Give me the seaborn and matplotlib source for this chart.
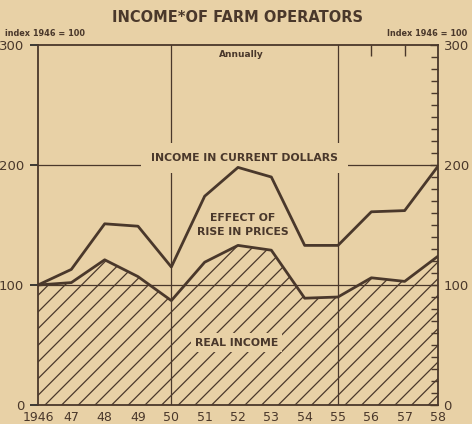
import matplotlib
matplotlib.use("Agg")
import matplotlib.pyplot as plt
import seaborn as sns
import pandas as pd
import numpy as np

years = [1946, 1947, 1948, 1949, 1950, 1951, 1952, 1953, 1954, 1955, 1956, 1957, 1958]
current_dollars = [100, 113, 151, 149, 115, 174, 198, 190, 133, 133, 161, 162, 199]
real_income = [100, 102, 121, 107, 87, 119, 133, 129, 89, 90, 106, 103, 124]
x_labels = ["1946", "47", "48", "49", "50", "51", "52", "53", "54", "55", "56", "57", "58"]
y_ticks = [0, 100, 200, 300]

df = pd.DataFrame({"year": years, "current": current_dollars, "real": real_income})

BG = "#e8d1a6"
INK = "#4a382b"

sns.set_theme(style="white")
plt.rcParams["font.family"] = ["DejaVu Sans"]
plt.rcParams["hatch.linewidth"] = 0.9
plt.rcParams["hatch.color"] = INK

fig = plt.figure(figsize=(4.72, 4.24), dpi=100, facecolor=BG)
ax = fig.add_axes([38 / 472, 1 - 405 / 424, 400 / 472, 360 / 424])
ax.set_facecolor(BG)

# grid lines
for v in [100, 200]:
    ax.axhline(v, color=INK, lw=0.9, zorder=1)
for v in [1950, 1955]:
    ax.axvline(v, color=INK, lw=0.9, zorder=1)

ax.fill_between(df["year"], 0, df["real"], facecolor="none", edgecolor=INK,
                hatch="//", linewidth=0, zorder=2)
sns.lineplot(data=df, x="year", y="current", ax=ax, color=INK, lw=2.0, zorder=4)
sns.lineplot(data=df, x="year", y="real", ax=ax, color=INK, lw=2.0, zorder=4)

ax.set_xlim(1946, 1958)
ax.set_ylim(0, 300)
ax.set_xlabel("")
ax.set_ylabel("")

for s in ax.spines.values():
    s.set_color(INK)
    s.set_linewidth(1.3)

ax.set_xticks(years)
ax.set_xticklabels(x_labels)
ax.tick_params(axis="x", direction="in", length=5, width=1, color=INK,
               labelsize=9, labelcolor=INK, pad=4)
ax.set_yticks(y_ticks)
ax.set_yticklabels([str(v) for v in y_ticks])
ax.tick_params(axis="y", left=False, labelsize=9.5, labelcolor=INK, pad=4)

axr = ax.twinx()
axr.set_ylim(0, 300)
axr.set_yticks(y_ticks)
axr.set_yticklabels([str(v) for v in y_ticks])
axr.set_yticks(np.arange(0, 301, 10), minor=True)
axr.tick_params(axis="y", which="major", direction="in", length=6, width=1,
                color=INK, labelsize=9.5, labelcolor=INK, pad=4)
axr.tick_params(axis="y", which="minor", direction="in", length=5, width=1, color=INK)
axr.grid(False)
ax.grid(False)
for s in axr.spines.values():
    s.set_visible(False)

# top ticks
axt = ax.secondary_xaxis("top")
axt.set_xticks([1956, 1957])
axt.set_xticklabels(["", ""])
axt.tick_params(direction="in", length=8, width=1, color=INK)
axt.spines["top"].set_visible(False)

box = dict(facecolor=BG, edgecolor="none", pad=3)
ax.text(1952.2, 206, "INCOME IN CURRENT DOLLARS", ha="center", va="center",
        fontsize=7.8, fontweight="bold", color=INK,
        bbox=dict(facecolor=BG, edgecolor="none", pad=7), zorder=3)
ax.text(1952.15, 150, "EFFECT OF\nRISE IN PRICES", ha="center", va="center",
        fontsize=7.8, fontweight="bold", color=INK, linespacing=1.45, zorder=3)
ax.text(1951.95, 52, "REAL INCOME", ha="center", va="center",
        fontsize=7.8, fontweight="bold", color=INK, bbox=box, zorder=3)
ax.text(1952.1, 292, "Annually", ha="center", va="center",
        fontsize=6.5, fontweight="bold", color=INK, zorder=3)

fig.text(238 / 472, 1 - 17 / 424, "INCOME*OF FARM OPERATORS", ha="center", va="center",
         fontsize=10.5, color=INK, fontweight="bold")
fig.text(5 / 472, 1 - 33 / 424, "index 1946 = 100", ha="left", va="center",
         fontsize=5.9, color=INK, fontweight="bold")
fig.text(467 / 472, 1 - 33 / 424, "Index 1946 = 100", ha="right", va="center",
         fontsize=5.9, color=INK, fontweight="bold")

fig.savefig("out.png", dpi=100, facecolor=BG)
